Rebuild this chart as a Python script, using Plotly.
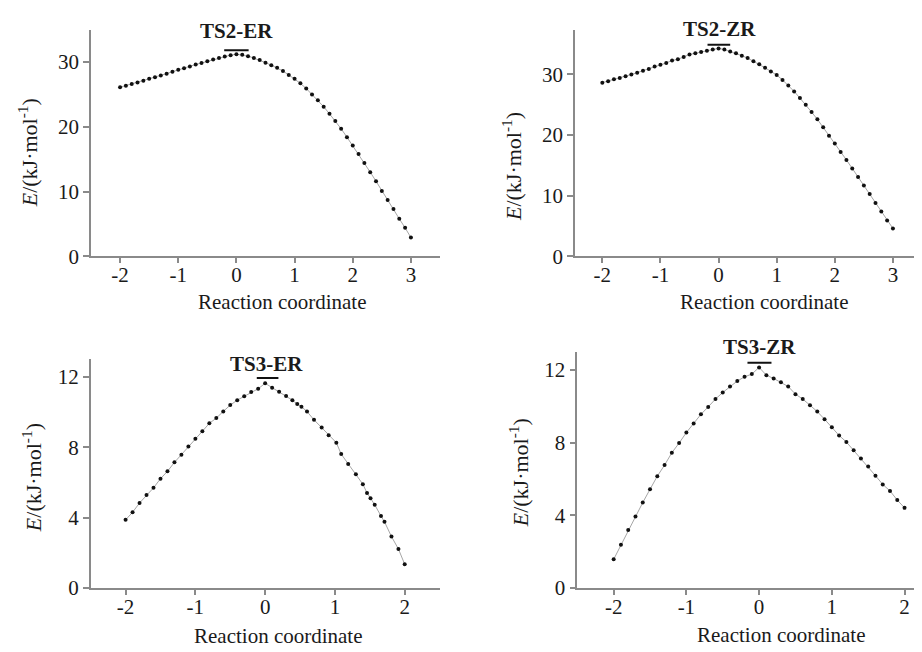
import plotly.graph_objects as go

W, H = 922, 652

# ---------------- data ----------------
ts2er_x = [-2.0, -1.9, -1.8, -1.7, -1.6, -1.5, -1.4, -1.3, -1.2, -1.1, -1.0, -0.9, -0.8, -0.7, -0.6, -0.5,
           -0.4, -0.3, -0.2, -0.1, 0.0, 0.1, 0.2, 0.3, 0.4, 0.5, 0.6, 0.7, 0.8, 0.9, 1.0, 1.1, 1.2, 1.3,
           1.4, 1.5, 1.6, 1.7, 1.8, 1.9, 2.0, 2.1, 2.2, 2.3, 2.4, 2.5, 2.6, 2.7, 2.8, 2.9, 3.0]
ts2er_y = [26.1, 26.35, 26.6, 26.85, 27.1, 27.4, 27.65, 27.9, 28.2, 28.5, 28.8, 29.05, 29.3, 29.6, 29.85,
           30.1, 30.4, 30.6, 30.85, 31.05, 31.2, 31.1, 30.9, 30.6, 30.3, 29.9, 29.5, 29.1, 28.6, 28.0,
           27.4, 26.7, 25.9, 25.0, 24.1, 23.1, 22.0, 20.9, 19.7, 18.4, 17.1, 15.8, 14.4, 13.0, 11.6,
           10.1, 8.7, 7.3, 5.8, 4.4, 2.9]

ts2zr_x = [-2.0, -1.9, -1.8, -1.7, -1.6, -1.5, -1.4, -1.3, -1.2, -1.1, -1.0, -0.9, -0.8, -0.7, -0.6, -0.5,
           -0.4, -0.3, -0.2, -0.1, 0.0, 0.1, 0.2, 0.3, 0.4, 0.5, 0.6, 0.7, 0.8, 0.9, 1.0, 1.1, 1.2, 1.3,
           1.4, 1.5, 1.6, 1.7, 1.8, 1.9, 2.0, 2.1, 2.2, 2.3, 2.4, 2.5, 2.6, 2.7, 2.8, 2.9, 3.0]
ts2zr_y = [28.65, 28.9, 29.2, 29.4, 29.7, 30.0, 30.3, 30.6, 30.9, 31.3, 31.6, 31.9, 32.3, 32.5, 32.9,
           33.3, 33.5, 33.7, 33.9, 34.1, 34.3, 34.1, 33.8, 33.5, 33.1, 32.7, 32.2, 31.7, 31.1, 30.5,
           29.9, 29.1, 28.2, 27.2, 26.1, 25.0, 23.8, 22.6, 21.3, 19.9, 18.6, 17.2, 15.9, 14.5, 13.1,
           11.7, 10.3, 8.8, 7.4, 5.9, 4.6]

ts3er_x = [-2.0, -1.9, -1.8, -1.7, -1.6, -1.5, -1.4, -1.3, -1.2, -1.1, -1.0, -0.9, -0.8, -0.7, -0.6, -0.5,
           -0.4, -0.3, -0.2, -0.1, 0.0, 0.1, 0.2, 0.3, 0.39, 0.46, 0.52, 0.6, 0.7, 0.81, 0.91, 1.02,
           1.09, 1.19, 1.3, 1.4, 1.46, 1.51, 1.57, 1.66, 1.71, 1.81, 1.91, 2.0]
ts3er_y = [3.87, 4.3, 4.83, 5.28, 5.69, 6.21, 6.63, 7.14, 7.57, 8.04, 8.48, 8.91, 9.36, 9.66, 10.04,
           10.4, 10.68, 10.9, 11.14, 11.33, 11.64, 11.39, 11.16, 10.92, 10.68, 10.46, 10.31, 10.03,
           9.56, 9.12, 8.69, 8.26, 7.61, 7.05, 6.46, 5.9, 5.4, 5.1, 4.73, 4.09, 3.76, 2.92, 2.21, 1.34]

ts3zr_x = [-2.0, -1.9, -1.8, -1.7, -1.6, -1.5, -1.4, -1.3, -1.2, -1.1, -1.0, -0.9, -0.8, -0.7, -0.6, -0.5,
           -0.4, -0.3, -0.2, -0.1, 0.0, 0.1, 0.2, 0.3, 0.4, 0.5, 0.6, 0.7, 0.8, 0.9, 1.0, 1.1, 1.2, 1.3,
           1.4, 1.5, 1.6, 1.7, 1.8, 1.9, 2.0]
ts3zr_y = [1.58, 2.38, 3.19, 3.94, 4.7, 5.43, 6.15, 6.76, 7.44, 7.97, 8.55, 9.05, 9.55, 9.96, 10.39,
           10.75, 11.08, 11.38, 11.61, 11.76, 12.13, 11.7, 11.52, 11.31, 11.08, 10.66, 10.39, 10.05,
           9.7, 9.28, 8.84, 8.39, 8.03, 7.58, 7.13, 6.68, 6.18, 5.7, 5.34, 4.84, 4.41]

# short bars marking the transition states
ts_bar_x = {"TS2-ER": [-0.21, 0.21], "TS2-ZR": [-0.19, 0.2], "TS3-ER": [-0.12, 0.19], "TS3-ZR": [-0.16, 0.17]}
ts_bar_y = {"TS2-ER": 31.8, "TS2-ZR": 34.9, "TS3-ER": 11.94, "TS3-ZR": 12.38}

ts_labels = ["TS2-ER", "TS2-ZR", "TS3-ER", "TS3-ZR"]
x_ticks_a = [-2, -1, 0, 1, 2, 3]
x_ticks_b = [-2, -1, 0, 1, 2]
y_ticks_a = [0, 10, 20, 30]
y_ticks_b = [0, 4, 8, 12]

x_title = "Reaction coordinate"
y_title = "<i>E</i>/(kJ·mol<sup>-1</sup>)"

# ---------------- layout helpers ----------------
def px(x):
    return x / W

def py(y):
    return 1 - y / H

FONT = "Liberation Serif"
AX_COLOR = "#8a8a8a"
TXT = "#1a1a1a"

panels = [
    dict(name="TS2-ER", x=ts2er_x, y=ts2er_y, xd=[83, 432], yd=[253, 22], xr=[-2.5, 3.5], yr=[0, 35],
         xt=x_ticks_a, yt=y_ticks_a, lab=(228.3, 23), xtitle=(274, 300), ytitle=(20, 148)),
    dict(name="TS2-ZR", x=ts2zr_x, y=ts2zr_y, xd=[567, 914], yd=[253, 22], xr=[-2.47, 3.5], yr=[0, 37.4],
         xt=x_ticks_a, yt=y_ticks_a, lab=(711.5, 21), xtitle=(756, 300), ytitle=(504, 161)),
    dict(name="TS3-ER", x=ts3er_x, y=ts3er_y, xd=[82.7, 432.3], yd=[590.7, 358], xr=[-2.5, 2.51], yr=[0, 13],
         xt=x_ticks_b, yt=y_ticks_b, lab=(258, 363), xtitle=(270, 640), ytitle=(24, 479)),
    dict(name="TS3-ZR", x=ts3zr_x, y=ts3zr_y, xd=[569.3, 922], yd=[591, 350], xr=[-2.5, 2.35], yr=[0, 13],
         xt=x_ticks_b, yt=y_ticks_b, lab=(751.5, 345), xtitle=(773, 639), ytitle=(511, 474)),
]

fig = go.Figure()
annotations = []
layout_axes = {}

for i, p in enumerate(panels, start=1):
    xa = "x" if i == 1 else f"x{i}"
    ya = "y" if i == 1 else f"y{i}"
    # curve
    fig.add_trace(go.Scatter(
        x=p["x"], y=p["y"], xaxis=xa, yaxis=ya, mode="lines+markers",
        line=dict(color="#a6a6a6", width=1),
        marker=dict(color="#111111", size=4),
        showlegend=False, hoverinfo="skip"))
    # TS bar
    fig.add_trace(go.Scatter(
        x=ts_bar_x[p["name"]], y=[ts_bar_y[p["name"]]] * 2, xaxis=xa, yaxis=ya, mode="lines",
        line=dict(color="#111111", width=2), showlegend=False, hoverinfo="skip"))

    common = dict(showline=True, linecolor=AX_COLOR, linewidth=1.5, ticks="outside",
                  tickwidth=1.5, tickcolor=AX_COLOR, showgrid=False, zeroline=False,
                  tickfont=dict(family=FONT, size=21, color=TXT), fixedrange=True)
    layout_axes["xaxis" if i == 1 else f"xaxis{i}"] = dict(
        domain=[px(p["xd"][0]), px(p["xd"][1])], range=p["xr"], anchor=ya, ticklen=5,
        tickvals=p["xt"], ticktext=[str(v) for v in p["xt"]], ticklabelstandoff=-6, **common)
    layout_axes["yaxis" if i == 1 else f"yaxis{i}"] = dict(
        domain=[py(p["yd"][0]), py(p["yd"][1])], range=p["yr"], anchor=xa, ticklen=6,
        tickvals=p["yt"], ticktext=[str(v) for v in p["yt"]], ticklabelstandoff=0, **common)

    annotations.append(dict(text=f"<b>{p['name']}</b>", x=px(p["lab"][0]), y=py(p["lab"][1]),
                            xref="paper", yref="paper", showarrow=False, xanchor="center", yanchor="middle",
                            font=dict(family=FONT, size=21, color=TXT)))
    annotations.append(dict(text=x_title, x=px(p["xtitle"][0]), y=py(p["xtitle"][1]),
                            xref="paper", yref="paper", showarrow=False, xanchor="center", yanchor="middle",
                            font=dict(family=FONT, size=21, color=TXT)))
    annotations.append(dict(text=y_title, x=px(p["ytitle"][0]), y=py(p["ytitle"][1]), textangle=-90,
                            xref="paper", yref="paper", showarrow=False, xanchor="center", yanchor="middle",
                            font=dict(family=FONT, size=22, color=TXT)))

fig.update_layout(
    width=W, height=H, margin=dict(l=0, r=0, t=0, b=0),
    paper_bgcolor="white", plot_bgcolor="white",
    annotations=annotations, **layout_axes)

fig.write_html("out.html", config={"displayModeBar": False})
